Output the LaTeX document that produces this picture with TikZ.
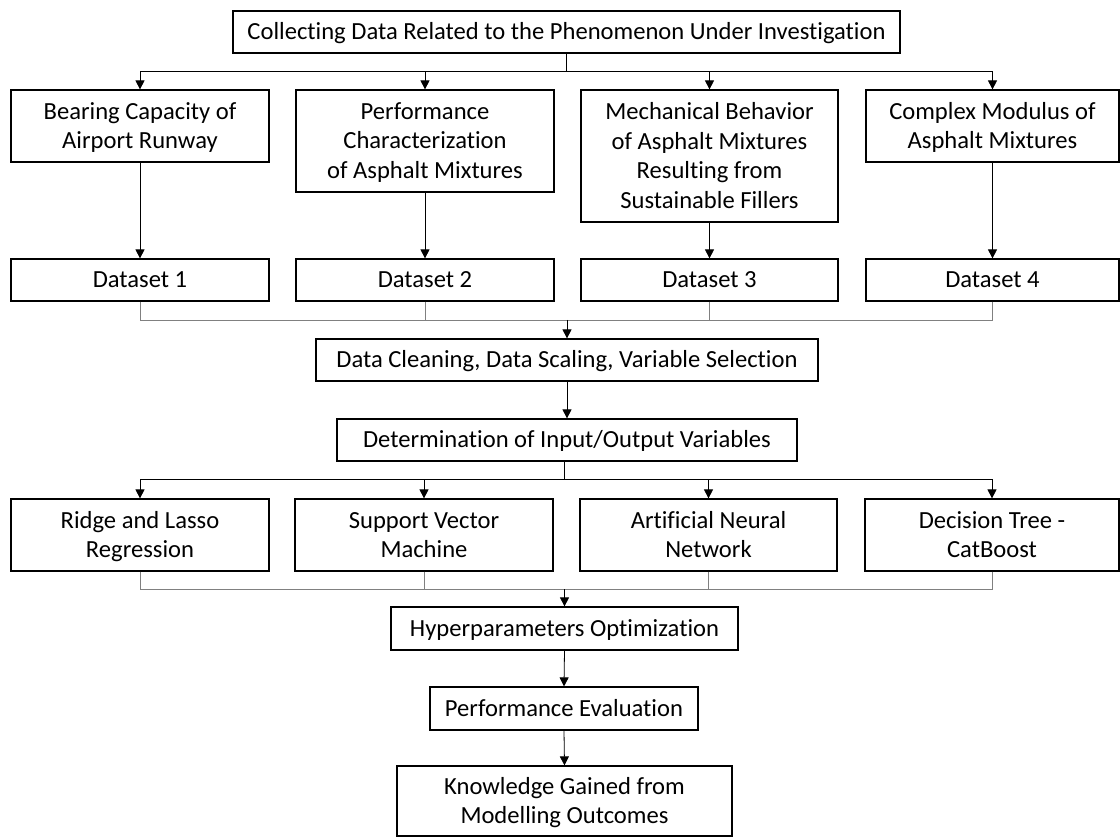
\documentclass[tikz,border=0pt]{standalone}
\usepackage{fontspec}
\setmainfont{Carlito}[Ligatures=NoCommon]
\usetikzlibrary{arrows.meta}
% uniform line height so every box centres its caps
\newcommand\linestrut{\rule[-6.85pt]{0pt}{29.5pt}}
\begin{document}
\begin{tikzpicture}[x=1pt,y=-1pt,
  box/.style={draw=black, line width=1.2pt, inner sep=0pt, align=center,
    font=\fontsize{24.6}{29.5}\selectfont},
  link/.style={line width=0.8pt, draw=black},
  arr/.style={link, -{Triangle[length=9pt,width=9pt]}},
  merge/.style={line width=0.8pt, draw=black!50},
]
\useasboundingbox (0,0) rectangle (1120,837);

% top stage
\node[box, minimum width=667pt, minimum height=42pt] (top) at (566.5,32)
  {\linestrut Collecting Data Related to the Phenomenon Under Investigation};

% data sources
\node[box, minimum width=258pt, minimum height=72pt] (src1) at (140,126)
  {\linestrut Bearing Capacity of\\\linestrut Airport Runway};
\node[box, minimum width=258pt, minimum height=102pt] (src2) at (425,141)
  {\linestrut Performance\\\linestrut Characterization\\\linestrut of Asphalt Mixtures};
\node[box, minimum width=257pt, minimum height=132pt] (src3) at (709.5,156)
  {\linestrut Mechanical Behavior\\\linestrut of Asphalt Mixtures\\\linestrut Resulting from\\\linestrut Sustainable Fillers};
\node[box, minimum width=253pt, minimum height=72pt] (src4) at (992.5,126)
  {\linestrut Complex Modulus of\\\linestrut Asphalt Mixtures};

% datasets
\node[box, minimum width=258pt, minimum height=42pt] (ds1) at (140,280) {\linestrut Dataset 1};
\node[box, minimum width=258pt, minimum height=42pt] (ds2) at (425,280) {\linestrut Dataset 2};
\node[box, minimum width=257pt, minimum height=42pt] (ds3) at (709.5,280) {\linestrut Dataset 3};
\node[box, minimum width=253pt, minimum height=42pt] (ds4) at (992.5,280) {\linestrut Dataset 4};

% preprocessing
\node[box, minimum width=502pt, minimum height=42pt] (clean) at (567,360)
  {\linestrut Data Cleaning, Data Scaling, Variable Selection};
\node[box, minimum width=460pt, minimum height=42pt] (iovar) at (567,440)
  {\linestrut Determination of Input/Output Variables};

% models
\node[box, minimum width=258pt, minimum height=72pt] (mod1) at (140,535)
  {\linestrut Ridge and Lasso\\\linestrut Regression};
\node[box, minimum width=258pt, minimum height=72pt] (mod2) at (424,535)
  {\linestrut Support Vector\\\linestrut Machine};
\node[box, minimum width=257pt, minimum height=72pt] (mod3) at (708.5,535)
  {\linestrut Artificial Neural\\\linestrut Network};
\node[box, minimum width=254pt, minimum height=72pt] (mod4) at (992,535)
  {\linestrut Decision Tree -\\\linestrut CatBoost};

% evaluation chain
\node[box, minimum width=347pt, minimum height=43pt] (hyper) at (564.5,628.5)
  {\linestrut Hyperparameters Optimization};
\node[box, minimum width=268pt, minimum height=43pt] (perf) at (564,708.5)
  {\linestrut Performance Evaluation};
\node[box, minimum width=335pt, minimum height=70pt] (know) at (564.5,801)
  {\linestrut Knowledge Gained from\\\linestrut Modelling Outcomes};

% junction points
\coordinate (split1) at (566.5,71);
\coordinate (join1) at (567,320);
\coordinate (split2) at (564,479);
\coordinate (join2) at (564.5,589);

% top stage to data sources
\draw[link] (top.south) -- (split1);
\foreach \n in {1,...,4} \draw[arr] (split1) -| (src\n.north);

% data sources to datasets
\foreach \n in {1,...,4} \draw[arr] (src\n.south) -- (ds\n.north);

% datasets merged into preprocessing
\foreach \n in {1,...,4} \draw[merge] (ds\n.south) |- (join1);
\draw[arr] (join1) -- (clean.north);
\draw[arr] (clean.south) -- (iovar.north);

% variables to models
\draw[link] (iovar.south -| split2) -- (split2);
\foreach \n in {1,...,4} \draw[arr] (split2) -| (mod\n.north);

% models merged into optimisation
\foreach \n in {1,...,4} \draw[merge] (mod\n.south) |- (join2);
\draw[arr] (join2) -- (hyper.north);
\draw[arr] (hyper.south) -- (perf.north);
\draw[arr] (perf.south) -- (know.north);
\end{tikzpicture}
\end{document}
